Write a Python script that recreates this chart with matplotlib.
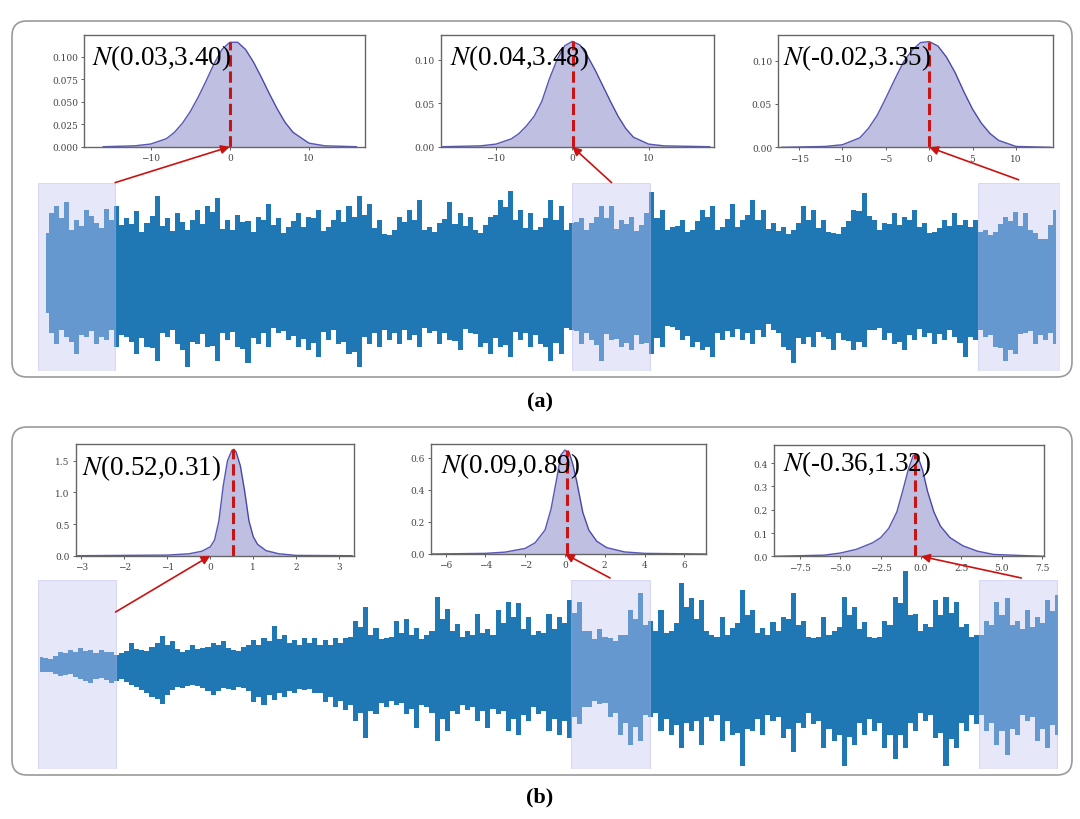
import numpy as np
import matplotlib.pyplot as plt
from matplotlib.patches import FancyBboxPatch, ConnectionPatch
from matplotlib.ticker import FormatStrFormatter

plt.rcParams['font.family'] = ['Liberation Serif', 'DejaVu Serif']
plt.rcParams['mathtext.fontset'] = 'stix'

W, H = 1080, 820

# ---------------- waveform envelopes ----------------
# spike tops / bottoms at whole time units
a_hi = [4.6, 7.5, 7.9, 6.0, 7.1, 5.7, 7.2, 7.5, 6.2, 7.0,
        5.7, 8.6, 6.2, 6.8, 5.0, 7.1, 7.5, 8.4, 6.0, 6.6,
        5.9, 6.4, 7.7, 6.2, 5.3, 6.8, 6.4, 7.1, 5.3, 7.1,
        7.5, 8.6, 7.7, 6.0, 4.4, 6.4, 7.1, 8.2, 5.3, 5.7,
        7.9, 6.8, 6.4, 4.6, 6.4, 8.2, 9.1, 7.1, 6.8, 5.3,
        8.2, 7.5, 5.7, 6.2, 5.7, 7.5, 7.5, 6.0, 6.4, 5.5,
        9.0, 7.1, 5.3, 6.0, 5.0, 7.1, 7.5, 5.3, 7.7, 6.0,
        8.2, 7.1, 5.7, 5.3, 5.0, 7.5, 7.1, 6.0, 4.6, 5.3,
        7.1, 8.9, 6.0, 5.7, 6.8, 6.4, 7.1, 5.7, 4.8, 6.0,
        6.8, 6.0, 6.0, 5.0, 4.8, 6.4, 6.9, 6.8, 4.6, 4.0,
        7.1]
a_lo = [-3.8, -7.1, -6.4, -8.2, -6.4, -7.1, -6.7, -7.5, -6.4, -8.2,
        -7.4, -8.9, -6.4, -7.1, -9.6, -7.1, -7.4, -8.9, -6.7, -7.4,
        -9.1, -7.1, -7.4, -6.0, -6.7, -7.4, -7.8, -8.5, -6.7, -7.1,
        -8.2, -9.6, -7.1, -7.4, -6.7, -7.1, -6.7, -7.4, -6.0, -7.1,
        -6.7, -7.8, -6.0, -7.4, -8.2, -7.4, -8.5, -6.7, -7.4, -7.1,
        -8.9, -8.2, -5.6, -7.1, -6.7, -8.9, -6.7, -7.4, -7.8, -7.1,
        -8.2, -7.4, -5.3, -6.7, -7.4, -7.8, -8.5, -6.7, -6.4, -6.7,
        -7.1, -6.4, -5.6, -7.4, -9.2, -7.1, -7.4, -6.4, -7.8, -6.7,
        -7.8, -7.4, -5.6, -6.7, -7.1, -7.8, -6.7, -6.4, -7.1, -6.7,
        -6.4, -8.5, -6.7, -6.4, -7.4, -8.9, -8.2, -6.0, -7.1, -6.7,
        -7.1]
# edge levels half-way between those samples
a_hi_mid = [6.8, 6.2, 5.0, 5.4, 6.5, 5.2, 6.0, 5.5, 5.6, 4.8,
            6.5, 5.4, 4.9, 5.8, 6.0, 5.6, 6.9, 5.1, 5.0, 5.8,
            4.8, 6.0, 5.5, 4.6, 5.9, 5.3, 6.2, 4.9, 6.0, 5.8,
            6.4, 6.6, 5.2, 4.5, 5.0, 5.8, 6.0, 5.0, 4.8, 6.1,
            5.6, 5.4, 5.0, 5.5, 6.6, 7.4, 6.0, 5.2, 5.0, 6.2,
            6.0, 5.0, 5.8, 5.0, 6.4, 6.2, 5.1, 5.6, 4.9, 6.8,
            6.2, 5.0, 5.4, 4.8, 5.9, 6.4, 5.0, 6.1, 5.3, 6.6,
            6.0, 5.1, 4.9, 4.5, 5.7, 6.0, 5.2, 4.8, 4.5, 5.9,
            7.0, 6.5, 5.0, 5.6, 5.5, 6.0, 5.3, 4.6, 5.2, 5.4,
            5.5, 5.3, 4.8, 4.4, 5.6, 5.9, 5.4, 5.0, 4.0, 5.5]
a_lo_mid = [-6.0, -5.6, -6.9, -6.2, -5.8, -6.4, -5.6, -6.2, -6.9, -6.5,
            -7.6, -6.0, -5.7, -7.8, -6.9, -6.1, -7.3, -6.0, -5.9, -7.7,
            -6.5, -6.0, -5.4, -5.8, -6.3, -6.6, -7.0, -5.9, -5.6, -6.9,
            -8.0, -6.4, -6.0, -5.6, -6.0, -5.7, -6.2, -5.4, -5.8, -6.0,
            -6.8, -5.5, -6.1, -7.0, -6.5, -7.2, -5.9, -6.0, -6.2, -7.5,
            -7.0, -5.4, -5.8, -6.0, -7.2, -6.1, -6.6, -7.0, -6.2, -7.0,
            -6.5, -5.2, -5.6, -6.3, -6.9, -7.5, -6.0, -5.8, -5.5, -6.0,
            -5.6, -5.0, -6.0, -7.8, -6.5, -6.4, -5.9, -6.6, -6.0, -6.8,
            -6.9, -5.6, -5.4, -6.0, -6.9, -6.2, -5.5, -6.0, -6.1, -5.7,
            -7.0, -6.4, -5.6, -6.2, -7.6, -7.8, -6.1, -5.8, -6.2, -6.0]

b_hi = [0.5, 0.42, 0.76, 0.85, 0.93, 0.85, 0.85, 0.76, 0.68, 1.2,
        0.85, 1.0, 1.53, 1.28, 0.76, 1.11, 0.93, 1.2, 1.28, 0.85,
        1.0, 1.36, 1.45, 2.05, 1.62, 1.36, 1.45, 1.45, 1.36, 1.45,
        1.45, 2.31, 3.0, 1.97, 1.45, 2.31, 2.4, 1.97, 1.62, 3.52,
        2.92, 2.14, 1.8, 2.66, 1.88, 2.83, 3.26, 3.18, 2.49, 1.8,
        2.66, 2.49, 3.35, 3.26, 1.8, 1.88, 1.45, 1.62, 2.83, 3.69,
        2.31, 2.83, 1.8, 4.2, 3.44, 3.35, 1.62, 2.49, 1.97, 3.87,
        2.83, 1.97, 2.23, 2.49, 3.69, 2.31, 1.45, 2.49, 1.8, 3.52,
        3.0, 2.23, 1.45, 2.31, 3.52, 4.8, 2.66, 2.14, 3.35, 3.52,
        3.26, 2.14, 1.62, 2.31, 3.26, 3.44, 2.31, 2.83, 2.49, 3.35,
        3.6]
b_lo = [-0.27, -0.27, -0.45, -0.36, -0.62, -0.79, -0.53, -0.79, -0.62, -0.88,
        -1.14, -1.48, -1.83, -1.14, -1.05, -0.88, -1.05, -1.4, -1.05, -1.14,
        -1.05, -1.74, -1.9, -1.65, -1.48, -1.31, -1.14, -1.31, -1.74, -2.0,
        -2.17, -2.69, -3.55, -2.34, -2.0, -1.9, -2.34, -3.03, -2.0, -3.72,
        -3.2, -2.34, -2.17, -2.69, -3.03, -2.34, -3.2, -3.38, -2.69, -2.34,
        -3.2, -3.38, -3.55, -2.86, -2.0, -1.83, -2.52, -3.38, -3.9, -3.72,
        -2.52, -3.2, -3.38, -4.07, -3.2, -3.9, -2.69, -3.72, -3.38, -4.93,
        -3.2, -3.38, -2.69, -3.55, -4.24, -3.03, -2.86, -4.07, -3.72, -4.93,
        -3.9, -3.38, -3.2, -4.07, -4.59, -4.07, -3.2, -2.69, -3.55, -4.93,
        -4.07, -3.2, -2.86, -3.2, -3.9, -4.41, -3.38, -2.69, -3.72, -4.07,
        -3.38]
b_hi_mid = [0.45, 0.55, 0.7, 0.75, 0.8, 0.7, 0.75, 0.6, 0.8, 0.9,
            0.8, 1.2, 1.1, 0.9, 0.85, 0.9, 1.0, 1.1, 0.95, 0.8,
            1.1, 1.1, 1.3, 1.4, 1.2, 1.1, 1.2, 1.1, 1.1, 1.2,
            1.5, 2.0, 1.6, 1.4, 1.5, 1.7, 1.6, 1.4, 1.8, 2.4,
            1.8, 1.5, 1.6, 1.7, 1.6, 2.2, 2.5, 1.9, 1.6, 1.7,
            1.9, 2.2, 2.7, 1.8, 1.4, 1.5, 1.3, 1.6, 2.4, 2.1,
            1.8, 1.7, 2.2, 3.0, 2.4, 1.8, 1.5, 1.6, 2.2, 2.6,
            1.7, 1.6, 1.8, 2.4, 2.1, 1.5, 1.5, 1.6, 2.0, 2.6,
            1.9, 1.5, 1.5, 2.1, 3.2, 2.6, 1.8, 2.0, 2.6, 2.7,
            2.0, 1.5, 1.6, 2.1, 2.6, 2.1, 1.9, 2.0, 2.2, 2.8]
b_lo_mid = [-0.25, -0.35, -0.4, -0.5, -0.7, -0.6, -0.65, -0.7, -0.75, -1.0,
            -1.3, -1.6, -1.4, -1.0, -0.95, -0.95, -1.2, -1.2, -1.1, -1.0,
            -1.2, -1.5, -1.4, -1.3, -1.2, -1.1, -1.1, -1.3, -1.5, -1.7,
            -1.9, -2.3, -2.2, -1.8, -1.7, -1.8, -2.1, -1.9, -2.3, -2.6,
            -2.2, -1.9, -2.0, -2.2, -2.1, -2.2, -2.6, -2.4, -2.0, -2.2,
            -2.6, -2.7, -2.5, -2.0, -1.7, -1.8, -2.3, -2.8, -3.0, -2.4,
            -2.3, -2.6, -2.9, -2.8, -2.7, -2.5, -2.4, -2.7, -3.3, -3.1,
            -2.6, -2.4, -2.5, -3.1, -2.8, -2.3, -2.7, -3.1, -3.4, -3.5,
            -2.8, -2.6, -2.8, -3.4, -3.4, -2.8, -2.3, -2.4, -3.3, -3.6,
            -2.8, -2.4, -2.4, -2.8, -3.2, -3.1, -2.4, -2.5, -3.1, -2.9]

# highlighted windows (time units)
a_windows = [(-0.83, 6.85), (52.1, 59.8), (92.3, 100.4)]
b_windows = [(-0.24, 7.42), (52.2, 59.9), (92.2, 99.9)]

# ---------------- window densities ----------------
a1_x = [-16, -12, -10, -8, -7, -6, -5, -4, -3, -2, -1, 0, 1, 2, 3, 4, 5, 6, 7, 8, 10, 12, 16]
a1_d = [0.0, 0.001, 0.003, 0.009, 0.016, 0.026, 0.039, 0.055, 0.073, 0.092, 0.108, 0.116,
        0.116, 0.108, 0.094, 0.077, 0.059, 0.042, 0.027, 0.016, 0.004, 0.001, 0.0]
a2_x = [-17, -12, -10, -8, -7, -6, -5, -4, -3, -2, -1, 0, 1, 2, 3, 4, 5, 6, 7, 8, 10, 12, 18]
a2_d = [0.0, 0.001, 0.003, 0.009, 0.015, 0.024, 0.035, 0.052, 0.078, 0.100, 0.116, 0.121,
        0.117, 0.104, 0.088, 0.070, 0.052, 0.035, 0.021, 0.011, 0.003, 0.001, 0.0]
a3_x = [-17, -12, -10, -8, -7, -6, -5, -4, -3, -2, -1, 0, 1, 2, 3, 4, 5, 6, 7, 8, 10, 14]
a3_d = [0.0, 0.001, 0.003, 0.011, 0.022, 0.037, 0.057, 0.078, 0.098, 0.112, 0.121, 0.122,
        0.117, 0.104, 0.086, 0.064, 0.044, 0.028, 0.016, 0.008, 0.001, 0.0]
b1_x = [-3.1, -1.0, -0.5, -0.2, 0.0, 0.1, 0.2, 0.3, 0.4, 0.5, 0.55, 0.6, 0.7, 0.8, 0.9,
        1.0, 1.1, 1.3, 1.6, 2.0, 3.3]
b1_d = [0.0, 0.01, 0.03, 0.07, 0.14, 0.25, 0.55, 1.10, 1.50, 1.66, 1.68, 1.64, 1.42, 1.02,
        0.55, 0.30, 0.18, 0.08, 0.03, 0.005, 0.0]
b2_x = [-6.7, -4, -3, -2, -1.5, -1, -0.7, -0.4, -0.2, 0, 0.1, 0.2, 0.4, 0.6, 0.9, 1.2, 1.6,
        2.1, 3, 4, 7.1]
b2_d = [0.0, 0.004, 0.012, 0.035, 0.07, 0.15, 0.28, 0.48, 0.62, 0.65, 0.64, 0.64, 0.56, 0.45,
        0.26, 0.15, 0.08, 0.04, 0.013, 0.004, 0.0]
b3_x = [-9.1, -6, -5, -4, -3, -2.5, -2, -1.5, -1.1, -0.8, -0.5, -0.35, -0.2, 0.1, 0.4, 0.8,
        1.2, 1.8, 2.6, 3.5, 4.5, 7.6]
b3_d = [0.0, 0.005, 0.014, 0.03, 0.058, 0.08, 0.12, 0.19, 0.29, 0.37, 0.43, 0.44, 0.43, 0.37,
        0.28, 0.19, 0.13, 0.08, 0.045, 0.022, 0.008, 0.0]

a_means = [0.03, 0.04, -0.02]
a_stds = [3.40, 3.48, 3.35]
b_means = [0.52, 0.09, -0.36]
b_stds = [0.31, 0.89, 1.32]

WAVE = '#1f77b4'
RED = '#c81414'


def px_axes(fig, x0, y0, x1, y1):
    return fig.add_axes([x0 / W, 1 - y1 / H, (x1 - x0) / W, (y1 - y0) / H])


def interleave(whole, half):
    out = np.empty(len(whole) + len(half))
    out[0::2] = whole
    out[1::2] = half
    return out


def wave_panel(fig, box, hi, hi_mid, lo, lo_mid, windows, xlim, ylim):
    ax = px_axes(fig, *box)
    tt = np.arange(2 * len(hi) - 1) * 0.5
    ax.fill_between(tt, interleave(lo, lo_mid), interleave(hi, hi_mid), step='mid',
                    color=WAVE, lw=0, zorder=1, clip_on=False)
    for x0, x1 in windows:
        ax.axvspan(x0, x1, facecolor='#c8c8f5', edgecolor='#b4b4ec', alpha=0.42,
                   lw=0.8, zorder=2)
    ax.set_xlim(*xlim)
    ax.set_ylim(*ylim)
    ax.axis('off')
    return ax


def density_inset(fig, box, x, d, mu, sd, xlim, ylim, xticks, yticks, yfmt, lab_xy):
    ax = px_axes(fig, *box)
    ax.fill_between(x, 0, d, color='darkblue', alpha=0.25, lw=0)
    ax.plot(x, d, color='darkblue', lw=1.0, alpha=0.65)
    ax.plot([mu, mu], [0, max(d)], color=RED, lw=2.2, ls='--')
    ax.set_xlim(*xlim)
    ax.set_ylim(*ylim)
    ax.set_xticks(xticks)
    ax.set_yticks(yticks)
    ax.yaxis.set_major_formatter(FormatStrFormatter(yfmt))
    ax.tick_params(labelsize=6.5, length=2.5, width=0.6, pad=2, colors='#444')
    for lbl in ax.get_xticklabels() + ax.get_yticklabels():
        lbl.set_family(['DejaVu Serif'])
    for sp in ax.spines.values():
        sp.set_color('#666666')
        sp.set_linewidth(1.0)
    ax.text(lab_xy[0], lab_xy[1], r'$N$(%s,%.2f)' % (('%.2f' % mu), sd),
            transform=ax.transAxes, fontsize=19.5, ha='left', va='baseline', color='black')
    return ax


fig = plt.figure(figsize=(W / 100, H / 100), dpi=100)

# rounded frames
for y0, y1 in [(22, 378), (428, 776)]:
    fig.add_artist(FancyBboxPatch((12 / W, 1 - y1 / H), 1060 / W, (y1 - y0) / H,
                                  boxstyle='round,pad=0,rounding_size=0.014',
                                  mutation_aspect=W / H, transform=fig.transFigure,
                                  fc='none', ec='#9a9a9a', lw=1.2))

wa = wave_panel(fig, (37.6, 183.6, 1060, 372), a_hi, a_hi_mid, a_lo, a_lo_mid,
                a_windows, (-0.83, 100.4), (-10, 10))
wb = wave_panel(fig, (37.6, 581, 1058, 770), b_hi, b_hi_mid, b_lo, b_lo_mid,
                b_windows, (-0.24, 100), (-5.1, 4.35))

ia = [
    density_inset(fig, (84.3, 35.7, 365, 147.7), a1_x, a1_d, a_means[0], a_stds[0],
                  (-18.4, 17.1), (0, 0.1244), [-10, 0, 10], [0, 0.025, 0.05, 0.075, 0.1],
                  '%.3f', (0.026, 0.738)),
    density_inset(fig, (441, 35.7, 714.3, 147.7), a2_x, a2_d, a_means[1], a_stds[1],
                  (-17.2, 18.6), (0, 0.1287), [-10, 0, 10], [0, 0.05, 0.1],
                  '%.2f', (0.033, 0.738)),
    density_inset(fig, (778.3, 35.7, 1053.3, 148.3), a3_x, a3_d, a_means[2], a_stds[2],
                  (-17.4, 14.3), (0, 0.130), [-15, -10, -5, 0, 5, 10], [0, 0.05, 0.1],
                  '%.2f', (0.017, 0.735)),
]
ib = [
    density_inset(fig, (75.7, 445, 354.3, 556.7), b1_x, b1_d, b_means[0], b_stds[0],
                  (-3.13, 3.35), (0, 1.764), [-3, -2, -1, 0, 1, 2, 3], [0, 0.5, 1.0, 1.5],
                  '%.1f', (0.0215, 0.731)),
    density_inset(fig, (431, 445, 706, 555), b2_x, b2_d, b_means[1], b_stds[1],
                  (-6.73, 7.09), (0, 0.6875), [-6, -4, -2, 0, 2, 4, 6], [0, 0.2, 0.4, 0.6],
                  '%.1f', (0.035, 0.748)),
    density_inset(fig, (774, 446, 1044.3, 557.3), b3_x, b3_d, b_means[2], b_stds[2],
                  (-9.1, 7.63), (0, 0.478), [-7.5, -5, -2.5, 0, 2.5, 5, 7.5],
                  [0, 0.1, 0.2, 0.3, 0.4], '%.1f', (0.032, 0.77)),
]

# arrows from highlighted windows to their densities
a_starts = [(6.85, 10.0), (56.0, 10.0), (96.3, 10.3)]
b_starts = [(7.42, 2.75), (56.0, 4.45), (96.4, 4.45)]
for wax, starts, insets in [(wa, a_starts, ia), (wb, b_starts, ib)]:
    for (sx, sy), iax in zip(starts, insets):
        con = ConnectionPatch(xyA=(sx, sy), coordsA=wax.transData,
                              xyB=(0.0, 0.0), coordsB=iax.transData,
                              arrowstyle='-|>', mutation_scale=13, color='#cc1111',
                              lw=1.2, zorder=10)
        fig.add_artist(con)

fig.text(0.5, 1 - 402 / H, '(a)', ha='center', va='center', fontsize=16, fontweight='bold')
fig.text(0.5, 1 - 797 / H, '(b)', ha='center', va='center', fontsize=16, fontweight='bold')

fig.savefig('out.png', dpi=100)
